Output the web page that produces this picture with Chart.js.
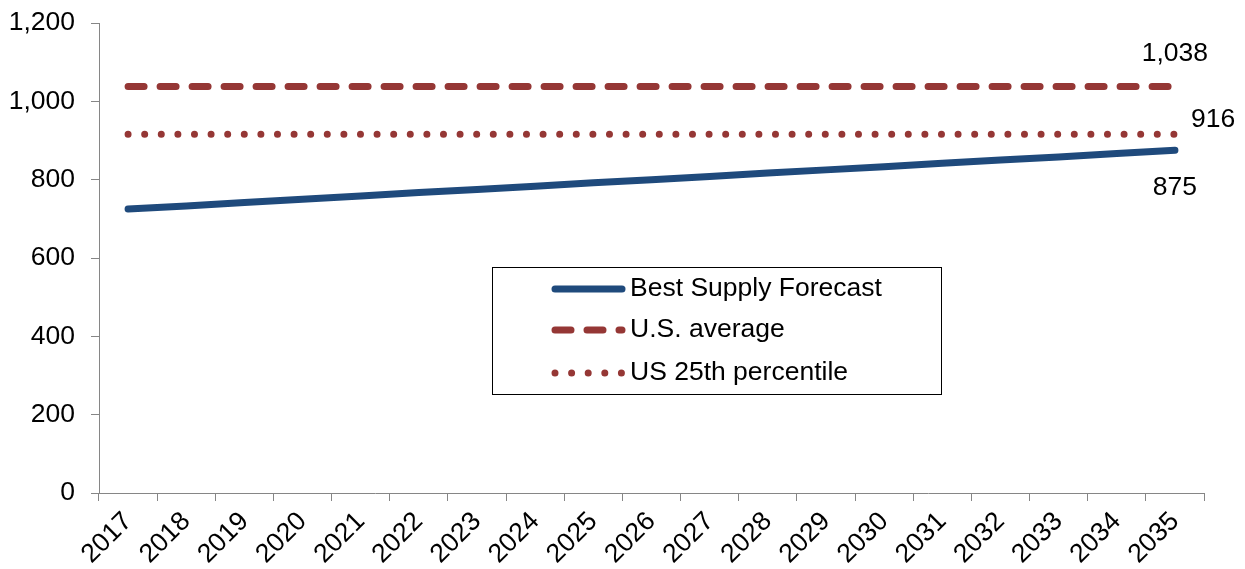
<!DOCTYPE html>
<html><head><meta charset="utf-8">
<script src="https://cdn.jsdelivr.net/npm/chart.js@4/dist/chart.umd.min.js"></script>
<style>html,body{margin:0;padding:0;background:#fff}#wrap{width:1245px;height:569px}</style>
</head><body><div id="wrap"><canvas id="c" width="1245" height="569"></canvas></div>
<script>
const years = ['2017','2018','2019','2020','2021','2022','2023','2024','2025','2026','2027','2028','2029','2030','2031','2032','2033','2034','2035'];
const bestSupply = [725,733,742,750,758,767,775,783,792,800,808,817,825,833,842,850,858,867,875];
const usAverage = [1038,1038,1038,1038,1038,1038,1038,1038,1038,1038,1038,1038,1038,1038,1038,1038,1038,1038,1038];
const us25th = [916,916,916,916,916,916,916,916,916,916,916,916,916,916,916,916,916,916,916];
const seriesNames = ['Best Supply Forecast','U.S. average','US 25th percentile'];
const yTicks = [0,200,400,600,800,1000,1200];

const BLUE = '#1F4A7C', RED = '#953735';
const FONT = '"Liberation Sans", Arial, sans-serif';
const FS = 26.5;

const endLabels = {
  id: 'endLabels',
  afterDatasetsDraw(chart) {
    const ctx = chart.ctx;
    ctx.save();
    ctx.font = FS + 'px ' + FONT;
    ctx.fillStyle = '#000';
    ctx.textBaseline = 'middle';
    const specs = [
      {ds: 0, dx: 0, dy: 37, align: 'center'},
      {ds: 1, dx: 0, dy: -33, align: 'center'},
      {ds: 2, dx: 16, dy: -15, align: 'left'}
    ];
    specs.forEach(s => {
      const meta = chart.getDatasetMeta(s.ds);
      const pt = meta.data[meta.data.length - 1];
      const v = chart.data.datasets[s.ds].data[meta.data.length - 1];
      ctx.textAlign = s.align;
      ctx.fillText(v.toLocaleString('en-US'), pt.x + s.dx, pt.y + s.dy);
    });
    ctx.restore();
  }
};

const boxLegend = {
  id: 'boxLegend',
  afterDraw(chart) {
    const ctx = chart.ctx;
    const bx = 492, by = 267, bw = 449, bh = 127;
    ctx.save();
    ctx.fillStyle = '#fff';
    ctx.fillRect(bx, by, bw, bh);
    ctx.strokeStyle = '#000';
    ctx.lineWidth = 1;
    ctx.strokeRect(bx + 0.5, by + 0.5, bw, bh);
    const rows = [289, 330, 373];
    ctx.font = FS + 'px ' + FONT;
    ctx.textBaseline = 'middle';
    ctx.textAlign = 'left';
    chart.data.datasets.forEach((ds, i) => {
      const y = rows[i];
      ctx.strokeStyle = ds.borderColor;
      ctx.lineWidth = ds.borderWidth;
      ctx.lineCap = 'round';
      ctx.setLineDash(ds.legendDash || []);
      ctx.beginPath();
      ctx.moveTo(555, y);
      ctx.lineTo(622, y);
      ctx.stroke();
      ctx.setLineDash([]);
      ctx.fillStyle = '#000';
      ctx.fillText(ds.label, 630, y);
    });
    ctx.restore();
  }
};

new Chart(document.getElementById('c'), {
  type: 'line',
  data: {
    labels: years,
    datasets: [
      {label: seriesNames[0], data: bestSupply, borderColor: BLUE, backgroundColor: BLUE, borderWidth: 7, borderCapStyle: 'round', pointRadius: 0, tension: 0, legendDash: []},
      {label: seriesNames[1], data: usAverage, borderColor: RED, backgroundColor: RED, borderWidth: 7, borderCapStyle: 'round', borderDash: [16, 16], pointRadius: 0, legendDash: [16, 16]},
      {label: seriesNames[2], data: us25th, borderColor: RED, backgroundColor: RED, borderWidth: 7, borderCapStyle: 'round', borderDash: [0, 16.6], pointRadius: 0, legendDash: [0, 16.6]}
    ]
  },
  options: {
    responsive: false,
    animation: false,
    layout: {padding: {top: 23, right: 41, left: 0, bottom: 0}},
    plugins: {legend: {display: false}, tooltip: {enabled: false}},
    scales: {
      x: {
        offset: true,
        grid: {offset: true, drawOnChartArea: false, drawTicks: true, tickLength: 8, color: '#868686'},
        border: {color: '#868686', width: 1},
        ticks: {color: '#000', font: {family: FONT, size: FS}, minRotation: 45, maxRotation: 45, autoSkip: false, padding: 5},
        afterFit(s) { s.height = 76; }
      },
      y: {
        min: 0, max: 1200,
        afterBuildTicks(s) { s.ticks = yTicks.map(v => ({value: v})); },
        grid: {drawOnChartArea: false, drawTicks: true, tickLength: 8, color: '#868686'},
        border: {color: '#868686', width: 1},
        ticks: {color: '#000', font: {family: FONT, size: FS}, padding: 16, callback: v => v.toLocaleString('en-US')},
        afterFit(s) { s.width = 99; s.paddingTop = 0; s.paddingBottom = 0; }
      }
    }
  },
  plugins: [endLabels, boxLegend]
});
</script></body></html>
